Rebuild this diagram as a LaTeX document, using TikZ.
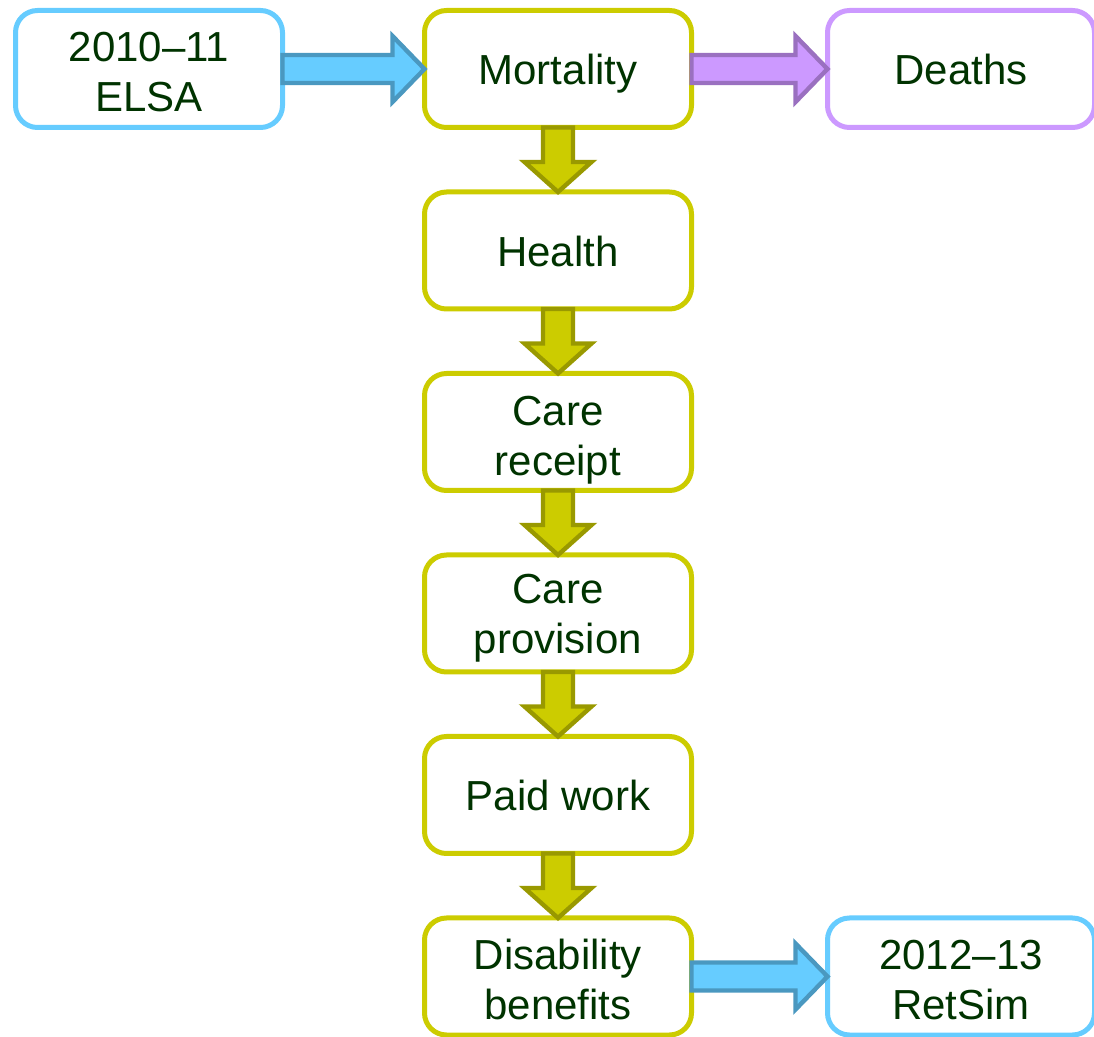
\documentclass[tikz,border=0pt]{standalone}
\usepackage{fontspec}
\setmainfont{Liberation Sans}
\usetikzlibrary{positioning}

\definecolor{textgreen}{HTML}{003300}
\definecolor{skyline}{HTML}{66CCFF}
\definecolor{skyedge}{HTML}{4A98C0}
\definecolor{oliveline}{HTML}{CCCC00}
\definecolor{oliveedge}{HTML}{999900}
\definecolor{lilacline}{HTML}{CC99FF}
\definecolor{lilacedge}{HTML}{9A70C0}

% pushes a two-line label down a little inside its box
\newcommand{\topgap}[1][19.5pt]{\rule{0pt}{#1}}

\tikzset{
  box/.style={draw, rounded corners=11pt, line width=2.5pt, fill=white,
    minimum width=133.5pt, minimum height=58.5pt, outer sep=0pt, inner ysep=0pt,
    align=center, text=textgreen, font=\fontsize{21}{25}\selectfont},
  oneline/.style={text height=16pt, text depth=0pt},
  bluebox/.style={box, draw=skyline},
  yellowbox/.style={box, draw=oliveline},
  purplebox/.style={box, draw=lilacline},
  fatarrow/.style={line width=2.2pt, line join=miter},
  bluearrow/.style={fatarrow, fill=skyline, draw=skyedge},
  yellowarrow/.style={fatarrow, fill=oliveline, draw=oliveedge},
  purplearrow/.style={fatarrow, fill=lilacline, draw=lilacedge}
}

% block arrow pointing right, from east side of #2 to west side of #3
\newcommand{\hfat}[3]{%
  \draw[#1] ([yshift=7pt]#2.east) -- ([xshift=-16pt,yshift=7pt]#3.west)
    -- ([xshift=-16pt,yshift=16.5pt]#3.west) -- (#3.west)
    -- ([xshift=-16pt,yshift=-16.5pt]#3.west) -- ([xshift=-16pt,yshift=-7pt]#3.west)
    -- ([yshift=-7pt]#2.east) -- cycle;}
% block arrow pointing down, from south side of #2 to north side of #3
\newcommand{\vfat}[3]{%
  \draw[#1] ([xshift=-7.5pt]#2.south) -- ([xshift=-7.5pt,yshift=15pt]#3.north)
    -- ([xshift=-16.75pt,yshift=15pt]#3.north) -- (#3.north)
    -- ([xshift=16.75pt,yshift=15pt]#3.north) -- ([xshift=7.5pt,yshift=15pt]#3.north)
    -- ([xshift=7.5pt]#2.south) -- cycle;}

\begin{document}
\begin{tikzpicture}[node distance=32.25pt]
\useasboundingbox (0,0) rectangle (547pt,-518.5pt);

\node[yellowbox, oneline] (mort) at (279pt,-34.5pt) {Mortality};
\node[bluebox, left=71pt of mort] (elsa) {\topgap[18pt]2010--11\\ELSA};
\node[purplebox, oneline, right=68pt of mort] (deaths) {Deaths};
\node[yellowbox, oneline, below=of mort] (health) {Health};
\node[yellowbox, below=of health] (receipt) {\topgap[23pt]Care\\receipt};
\node[yellowbox, below=of receipt] (provision) {\topgap Care\\provision};
\node[yellowbox, oneline, below=of provision] (work) {Paid work};
\node[yellowbox, below=of work] (disab) {\topgap[18.5pt]Disability\\benefits};
\node[bluebox, right=68pt of disab] (retsim) {\topgap[18.5pt]2012--13\\RetSim};

\hfat{bluearrow}{elsa}{mort}
\hfat{purplearrow}{mort}{deaths}
\hfat{bluearrow}{disab}{retsim}
\foreach \a/\b in {mort/health, health/receipt, receipt/provision,
    provision/work, work/disab}
  \vfat{yellowarrow}{\a}{\b};
\end{tikzpicture}
\end{document}
